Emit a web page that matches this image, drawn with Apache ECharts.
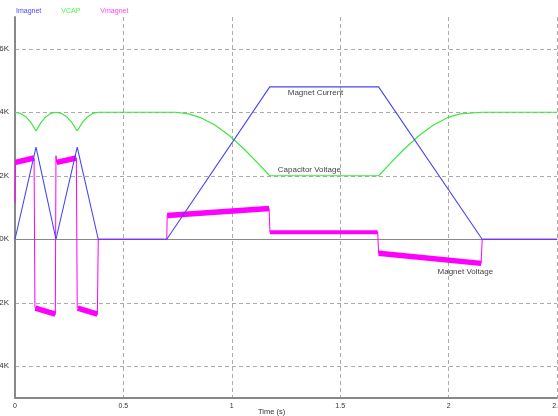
<!DOCTYPE html>
<html><head><meta charset="utf-8">
<script src="https://cdn.jsdelivr.net/npm/echarts@6/dist/echarts.min.js"></script>
<style>html,body{margin:0;padding:0;background:#fff;overflow:hidden}#c{width:558px;height:416px}</style>
</head><body><div id="c"></div>
<script>
const seriesNames = ['Imagnet', 'VCAP', 'Vmagnet'];
const xAxisTitle = 'Time (s)';
const xTickValues = [0, 0.5, 1, 1.5, 2, 2.5];
const yTickValues = [-4000, -2000, 0, 2000, 4000, 6000];

// Magnet current (A)
const imagT = [0, 0.097, 0.189, 0.287, 0.384, 0.700, 1.175, 1.677, 2.155, 2.5];
const imagV = [0, 2900, 0, 2900, 0, 0, 4800, 4800, 0, 0];

// Capacitor voltage (V)
const vcapT = [0, 0.024, 0.049, 0.073, 0.097, 0.120, 0.143, 0.166, 0.189,
  0.213, 0.238, 0.262, 0.287, 0.311, 0.335, 0.360, 0.384,
  0.740, 0.800, 0.853, 0.922, 0.991, 1.060, 1.120, 1.175,
  1.677, 1.732, 1.792, 1.861, 1.930, 1.999, 2.052, 2.155, 2.5];
const vcapV = [4000, 3966, 3860, 3680, 3410, 3680, 3860, 3966, 4000,
  3966, 3860, 3680, 3410, 3680, 3860, 3966, 4000,
  4000, 3950, 3840, 3600, 3250, 2820, 2400, 2000,
  2000, 2400, 2820, 3250, 3600, 3840, 3950, 4000, 4000];

// Magnet voltage (V) - trace
const vmagT = [0, 0.002, 0.088, 0.092, 0.186, 0.189, 0.192, 0.283, 0.287, 0.380, 0.384,
  0.700, 0.702, 1.172, 1.176, 1.673, 1.677, 2.150, 2.155, 2.5];
const vmagV = [1150, 2420, 2560, -2150, -2370, 2630, 2420, 2560, -2150, -2370, 0,
  0, 750, 970, 220, 220, -440, -760, 0, 0];

// Magnet voltage - noisy bands (null = gap)
const bandT = [0.002, 0.088, 0.09, 0.094, 0.186, 0.19, 0.192, 0.283, 0.285, 0.289, 0.380, 0.5,
  0.702, 1.172, 1.174, 1.677, 2.150];
const bandV = [2420, 2560, null, -2170, -2360, null, 2420, 2560, null, -2170, -2360, null,
  750, 970, null, -440, -760];
const band2T = [1.176, 1.673];
const band2V = [220, 220];

const annotations = [
  { text: 'Magnet Current', t: 1.258, v: 4608 },
  { text: 'Capacitor Voltage', t: 1.212, v: 2195 },
  { text: 'Magnet Voltage', t: 1.949, v: -1035 }
];

const colors = ['#4646f5', '#3ee83e', '#ff00ff'];
const legendColors = ['#4848ff', '#44ff44', '#ff44ff'];
const zip = (T, V) => T.map((t, i) => [t, V[i] === null ? '-' : V[i]]);

const chart = echarts.init(document.getElementById('c'), null, { renderer: 'canvas' });
const gridLine = { show: true, lineStyle: { color: '#aaaaaa', type: [4, 3], width: 1 } };
const font = 'Liberation Sans, Arial, sans-serif';

chart.setOption({
  animation: false,
  backgroundColor: '#ffffff',
  textStyle: { fontFamily: font },
  legend: {
    left: 6, top: 3, itemGap: 15, itemWidth: 0, itemHeight: 0,
    selectedMode: false,
    textStyle: { fontSize: 7, fontFamily: font },
    data: seriesNames.map((n, i) => ({ name: n, icon: 'rect', textStyle: { color: legendColors[i] } }))
  },
  graphic: [{
    type: 'text', left: 258, top: 408, silent: true,
    style: { text: xAxisTitle, fontSize: 7.5, fill: '#333', fontFamily: font }
  }],
  grid: { left: 15, right: 1, top: 17, bottom: 18, containLabel: false, outerBoundsMode: 'none' },
  xAxis: [{
    type: 'value', min: 0, max: 2.5, interval: 0.5,
    axisLine: { show: true, onZero: false, lineStyle: { color: '#888', width: 2 } },
    axisTick: { show: false },
    axisLabel: { fontSize: 7, color: '#333', margin: 5, formatter: v => (xTickValues.indexOf(v) >= 0 ? String(v) : '') },
    splitLine: gridLine
  }, {
    type: 'value', min: 0, max: 2.5, position: 'top',
    axisLine: { show: true, lineStyle: { color: '#888', width: 1 } },
    axisTick: { show: false }, axisLabel: { show: false }, splitLine: { show: false }
  }],
  yAxis: {
    type: 'value', min: -5000, max: 7000,
    axisLine: { show: true, onZero: false, lineStyle: { color: '#888', width: 2 } },
    axisTick: { show: false, customValues: yTickValues },
    axisLabel: { fontSize: 8, color: '#333', margin: 6, customValues: yTickValues,
      formatter: v => (v / 1000) + 'K' },
    splitLine: gridLine
  },
  series: [
    {
      name: 'Imagnet', type: 'line', data: zip(imagT, imagV), showSymbol: false, symbol: 'none',
      lineStyle: { color: colors[0], width: 1.1 }, itemStyle: { color: colors[0] }, z: 3,
      markPoint: {
        symbol: 'circle', symbolSize: 0, silent: true,
        label: { show: true, position: 'right', distance: 0, fontSize: 8, color: '#444', fontFamily: font, formatter: p => p.name },
        data: annotations.map(a => ({ name: a.text, coord: [a.t, a.v] }))
      }
    },
    {
      name: 'VCAP', type: 'line', data: zip(vcapT, vcapV), showSymbol: false, symbol: 'none',
      smooth: false, lineStyle: { color: colors[1], width: 1.2 }, itemStyle: { color: colors[1] }, z: 2
    },
    {
      name: 'Vmagnet', type: 'line', data: zip(vmagT, vmagV), showSymbol: false, symbol: 'none',
      lineStyle: { color: colors[2], width: 1 }, itemStyle: { color: colors[2] }, z: 2
    },
    {
      name: 'VmagnetBand', type: 'line', data: zip(bandT, bandV), showSymbol: false, symbol: 'none',
      connectNulls: false, lineStyle: { color: colors[2], width: 5.5 }, itemStyle: { color: colors[2] }, z: 2
    },
    {
      name: 'VmagnetBand2', type: 'line', data: zip(band2T, band2V), showSymbol: false, symbol: 'none',
      lineStyle: { color: colors[2], width: 4 }, itemStyle: { color: colors[2] }, z: 2
    }
  ]
});
</script>
</body></html>
